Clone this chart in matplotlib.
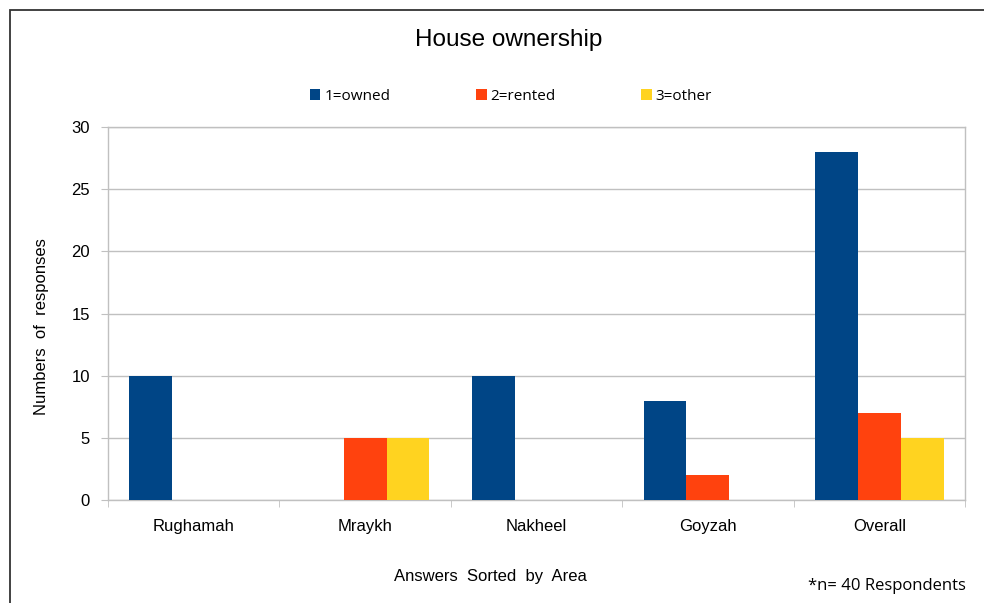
import matplotlib
matplotlib.use("Agg")
import matplotlib.pyplot as plt
from matplotlib.patches import Rectangle
import numpy as np

plt.rcParams['font.family'] = ['Liberation Sans', 'DejaVu Sans']

categories = ["Rughamah", "Mraykh", "Nakheel", "Goyzah", "Overall"]
owned = [10, 0, 10, 8, 28]
rented = [0, 5, 0, 2, 7]
other = [0, 5, 0, 0, 5]
series_labels = ["1=owned", "2=rented", "3=other"]
colors = ["#004586", "#ff420e", "#ffd320"]
yticks = [0, 5, 10, 15, 20, 25, 30]

W, H = 984, 603
fig = plt.figure(figsize=(W / 100, H / 100), dpi=100)

# outer frame
fig.patches.append(Rectangle((10 / W, -0.1), 1.2, 1 - 10 / H + 0.1, transform=fig.transFigure,
                             fill=False, edgecolor="#333333", linewidth=1.3))

ax = fig.add_axes([108 / W, (H - 500) / H, (965 - 108) / W, (500 - 127) / H])

x = np.arange(len(categories))
bw = 0.25
bars = []
for i, (vals, c, lab) in enumerate(zip([owned, rented, other], colors, series_labels)):
    b = ax.bar(x + (i - 1) * bw, vals, bw, color=c, label=lab, zorder=3)
    bars.append(b)

ax.set_xlim(-0.5, len(categories) - 0.5)
ax.set_ylim(0, 30)
ax.set_yticks(yticks)
ax.yaxis.grid(True, color="#c0c0c0", linewidth=1.0, zorder=0)
for s in ax.spines.values():
    s.set_color("#c0c0c0")
    s.set_linewidth(1.0)
ax.tick_params(axis="y", length=5, color="#c0c0c0", labelsize=12, pad=8, labelcolor="#000000")
ax.set_xticks(x)
ax.set_xticklabels(categories)
ax.tick_params(axis="x", which="major", length=0, labelsize=12, pad=14)
ax.set_xticks(np.arange(-0.5, len(categories)), minor=True)
ax.tick_params(axis="x", which="minor", length=5, color="#c0c0c0", direction="out")

fig.text(509 / W, 1 - 40 / H, "House ownership", ha="center", va="center", fontsize=17.5)
fig.text(42 / W, 1 - 327 / H, "Numbers  of  responses", ha="center", va="center",
         rotation=90, fontsize=12)
fig.text(490 / W, 1 - 577 / H, "Answers  Sorted  by  Area", ha="center", va="center", fontsize=12)
fig.text(966 / W, 1 - 586 / H, "*n= 40 Respondents", ha="right", va="center", fontsize=12,
         family=["Open Sans", "DejaVu Sans"])

leg = fig.legend(handles=bars, labels=series_labels, loc="center left",
                 bbox_to_anchor=(296 / W, 1 - 96 / H), ncol=3, frameon=False,
                 handlelength=0.7, handleheight=0.7, handletextpad=0.25,
                 columnspacing=5.6, prop={"family": ["Open Sans", "DejaVu Sans"], "size": 11})

fig.savefig("out.png", dpi=100)
